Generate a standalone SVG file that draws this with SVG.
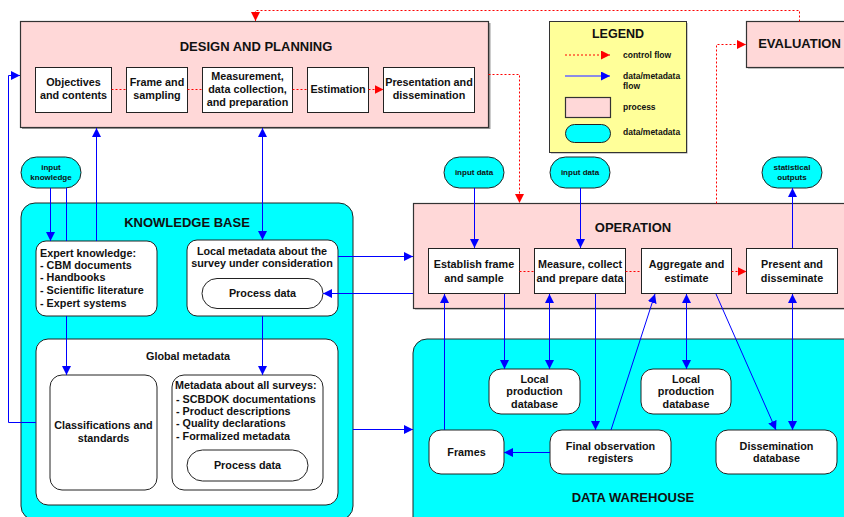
<svg xmlns="http://www.w3.org/2000/svg" width="844" height="517" viewBox="0 0 844 517">
<style>
text{font-family:"Liberation Sans",Arial,sans-serif;font-weight:bold;fill:#111;}
.t13{font-size:13px;text-anchor:middle;}
.t11{font-size:10.8px;text-anchor:middle;}
.tl{font-size:10.8px;text-anchor:start;}
.t8{font-size:8px;text-anchor:middle;}
.lg{font-size:8.5px;text-anchor:start;}
.proc{fill:#FFD8D8;stroke:#333;stroke-width:1.2;}
.sh{fill:#999;}
.box{fill:#fff;stroke:#222;stroke-width:1;}
.cyan{fill:#00FFFF;stroke:#222;stroke-width:1;}
.wr{fill:#fff;stroke:#222;stroke-width:1;}
.blue{fill:none;stroke:#0000FF;stroke-width:1;}
.red{fill:none;stroke:#FF0000;stroke-width:1;stroke-dasharray:2,2;}
</style>
<defs>
<marker id="ab" viewBox="0 0 10 10" refX="10" refY="5" markerWidth="9" markerHeight="9" orient="auto-start-reverse" markerUnits="userSpaceOnUse"><path d="M0,0 L10,5 L0,10 z" fill="#0000FF"/></marker>
<marker id="ar" viewBox="0 0 10 10" refX="10" refY="5" markerWidth="9" markerHeight="9" orient="auto-start-reverse" markerUnits="userSpaceOnUse"><path d="M0,0 L10,5 L0,10 z" fill="#FF0000"/></marker>
</defs>
<rect width="844" height="517" fill="#fff"/>

<!-- Knowledge base -->
<g id="knowledge-base">
<rect class="cyan" x="21" y="203" width="332" height="317" rx="14"/>
<text class="t13" x="187" y="227">KNOWLEDGE BASE</text>
</g>
<g id="expert-knowledge">
<rect class="wr" x="36" y="241" width="121" height="75" rx="10"/>
<text class="tl" x="40" y="256.5">Expert knowledge:</text>
<text class="tl" x="40" y="269">- CBM documents</text>
<text class="tl" x="40" y="281">- Handbooks</text>
<text class="tl" x="40" y="293.8">- Scientific literature</text>
<text class="tl" x="40" y="307">- Expert systems</text>
</g>
<g id="local-metadata">
<rect class="wr" x="187" y="240" width="151" height="76" rx="10"/>
<text class="t11" x="262" y="254.5">Local metadata about the</text>
<text class="t11" x="262" y="267">survey under consideration</text>
</g>
<g id="process-data-local">
<rect class="wr" x="202" y="278.5" width="121" height="30" rx="15"/>
<text class="t11" x="262.5" y="297">Process data</text>
</g>
<g id="global-metadata">
<rect class="wr" x="36" y="339" width="302" height="166" rx="12"/>
<text class="t11" x="188" y="360">Global metadata</text>
</g>
<g id="classifications">
<rect class="wr" x="50" y="375" width="107" height="115" rx="12"/>
<text class="t11" x="103.5" y="429">Classifications and</text>
<text class="t11" x="103.5" y="441.8">standards</text>
</g>
<g id="metadata-all-surveys">
<rect class="wr" x="172" y="375" width="151" height="115" rx="12"/>
<text class="tl" x="175" y="389">Metadata about all surveys:</text>
<text class="tl" x="176" y="402.5">- SCBDOK documentations</text>
<text class="tl" x="176" y="415">- Product descriptions</text>
<text class="tl" x="176" y="427.2">- Quality declarations</text>
<text class="tl" x="176" y="440">- Formalized metadata</text>
</g>
<g id="process-data-global">
<rect class="wr" x="187" y="450" width="121" height="31" rx="15.5"/>
<text class="t11" x="247.5" y="469">Process data</text>
</g>

<!-- Data warehouse -->
<g id="data-warehouse">
<rect class="cyan" x="413" y="339" width="460" height="200" rx="14"/>
<text class="t13" x="633" y="501.5">DATA WAREHOUSE</text>
</g>
<g id="local-prod-db-1">
<rect class="wr" x="489" y="369" width="91" height="45" rx="12"/>
<text class="t11" x="534.5" y="383">Local</text>
<text class="t11" x="534.5" y="395">production</text>
<text class="t11" x="534.5" y="407.8">database</text>
</g>
<g id="local-prod-db-2">
<rect class="wr" x="641" y="369" width="90" height="45" rx="12"/>
<text class="t11" x="686" y="383">Local</text>
<text class="t11" x="686" y="395">production</text>
<text class="t11" x="686" y="407.8">database</text>
</g>
<g id="frames">
<rect class="wr" x="429" y="430" width="75" height="44" rx="12"/>
<text class="t11" x="466.5" y="456">Frames</text>
</g>
<g id="final-observation-registers">
<rect class="wr" x="550" y="430" width="121" height="44" rx="12"/>
<text class="t11" x="610.5" y="449.5">Final observation</text>
<text class="t11" x="610.5" y="461.8">registers</text>
</g>
<g id="dissemination-database">
<rect class="wr" x="716" y="430" width="121" height="44" rx="12"/>
<text class="t11" x="776.5" y="449.5">Dissemination</text>
<text class="t11" x="776.5" y="461.8">database</text>
</g>

<!-- Design and planning -->
<g id="design-planning">
<rect class="sh" x="22" y="23" width="468.5" height="106"/>
<rect class="proc" x="20.5" y="21.5" width="468" height="106"/>
<text class="t13" x="256" y="50.5">DESIGN AND PLANNING</text>
</g>
<g id="objectives">
<rect class="box" x="35.5" y="67.5" width="76" height="45"/>
<text class="t11" x="73.5" y="86">Objectives</text>
<text class="t11" x="73.5" y="99">and contents</text>
</g>
<g id="frame-sampling">
<rect class="box" x="126.5" y="67.5" width="61" height="45"/>
<text class="t11" x="157" y="86">Frame and</text>
<text class="t11" x="157" y="99">sampling</text>
</g>
<g id="measurement">
<rect class="box" x="202.5" y="67.5" width="90" height="45"/>
<text class="t11" x="247.5" y="79.8">Measurement,</text>
<text class="t11" x="247.5" y="93">data collection,</text>
<text class="t11" x="247.5" y="105.8">and preparation</text>
</g>
<g id="estimation">
<rect class="box" x="307.5" y="67.5" width="61" height="45"/>
<text class="t11" x="338" y="93">Estimation</text>
</g>
<g id="presentation">
<rect class="box" x="383.5" y="67.5" width="91" height="45"/>
<text class="t11" x="429" y="86">Presentation and</text>
<text class="t11" x="429" y="99">dissemination</text>
</g>

<!-- Operation -->
<g id="operation">
<rect class="sh" x="415" y="205" width="440" height="104.5"/>
<rect class="proc" x="413.5" y="203.5" width="440" height="105"/>
<text class="t13" x="633" y="231.5">OPERATION</text>
</g>
<g id="establish">
<rect class="box" x="428.5" y="248.5" width="91" height="45"/>
<text class="t11" x="474" y="268">Establish frame</text>
<text class="t11" x="474" y="281.5">and sample</text>
</g>
<g id="measure">
<rect class="box" x="534.5" y="248.5" width="91" height="45"/>
<text class="t11" x="580" y="268">Measure, collect</text>
<text class="t11" x="580" y="281.5">and prepare data</text>
</g>
<g id="aggregate">
<rect class="box" x="641.5" y="248.5" width="90" height="45"/>
<text class="t11" x="686.5" y="268">Aggregate and</text>
<text class="t11" x="686.5" y="281.5">estimate</text>
</g>
<g id="present">
<rect class="box" x="746.5" y="248.5" width="91" height="45"/>
<text class="t11" x="792" y="268">Present and</text>
<text class="t11" x="792" y="281.5">disseminate</text>
</g>

<!-- Evaluation -->
<g id="evaluation">
<rect class="sh" x="748" y="23" width="110" height="45.5"/>
<rect class="proc" x="746.5" y="21.5" width="110" height="46"/>
<text class="t13" x="799.5" y="48">EVALUATION</text>
</g>

<!-- Legend -->
<g id="legend">
<rect class="sh" x="551" y="23" width="136.5" height="130.5"/>
<rect x="549.5" y="21.5" width="137" height="131" fill="#FFFF99" stroke="#333" stroke-width="1"/>
<text class="t13" x="618" y="38" style="font-size:12.5px">LEGEND</text>
<line class="red" x1="565" y1="55" x2="610" y2="55" marker-end="url(#ar)"/>
<text class="lg" x="623" y="58">control flow</text>
<line x1="565" y1="76" x2="610" y2="76" stroke="#6666FF" stroke-width="1.5" marker-end="url(#ab)"/>
<text class="lg" x="623" y="79">data/metadata</text>
<text class="lg" x="623" y="89">flow</text>
<rect class="proc" x="565.5" y="97.5" width="45" height="20"/>
<text class="lg" x="623" y="109.5">process</text>
<rect class="cyan" x="565.5" y="124.5" width="45" height="18" rx="9"/>
<text class="lg" x="623" y="135">data/metadata</text>
</g>

<!-- Data pills -->
<g id="input-knowledge">
<rect class="cyan" x="21" y="157" width="60" height="31" rx="15.5"/>
<text class="t8" x="51" y="170">input</text>
<text class="t8" x="51" y="179.5">knowledge</text>
</g>
<g id="input-data-1">
<rect class="cyan" x="444" y="157" width="60" height="31" rx="15.5"/>
<text class="t8" x="474" y="175">input data</text>
</g>
<g id="input-data-2">
<rect class="cyan" x="550" y="157" width="60" height="31" rx="15.5"/>
<text class="t8" x="580" y="175">input data</text>
</g>
<g id="statistical-outputs">
<rect class="cyan" x="762" y="157" width="60" height="31" rx="15.5"/>
<text class="t8" x="792" y="170">statistical</text>
<text class="t8" x="792" y="179.5">outputs</text>
</g>

<!-- Connectors -->
<g id="connectors">
<!-- control flow -->
<line class="red" x1="111.5" y1="89.5" x2="126.5" y2="89.5"/>
<line class="red" x1="187.5" y1="89.5" x2="202.5" y2="89.5"/>
<line class="red" x1="292.5" y1="89.5" x2="307.5" y2="89.5"/>
<line class="red" x1="368.5" y1="89.5" x2="383.5" y2="89.5" marker-end="url(#ar)"/>
<line class="red" x1="519.5" y1="271.5" x2="534.5" y2="271.5"/>
<line class="red" x1="625.5" y1="271.5" x2="641.5" y2="271.5"/>
<line class="red" x1="731.5" y1="271.5" x2="746.5" y2="271.5" marker-end="url(#ar)"/>
<path class="red" d="M488.5,74.5 H519.5 V203" marker-end="url(#ar)"/>
<path class="red" d="M716.5,203.5 V44.5 H746" marker-end="url(#ar)"/>
<path class="red" d="M799.5,21.5 V10.5 H255.5 V21" marker-end="url(#ar)"/>
<!-- data/metadata flow -->
<path class="blue" d="M36,422.5 H8.5 V75.5 H20" marker-end="url(#ab)"/>
<line class="blue" x1="50.5" y1="188" x2="50.5" y2="241" marker-end="url(#ab)"/>
<line class="blue" x1="66.5" y1="188" x2="66.5" y2="241"/>
<line class="blue" x1="66.5" y1="316" x2="66.5" y2="375" marker-end="url(#ab)"/>
<line class="blue" x1="96.5" y1="241" x2="96.5" y2="128" marker-end="url(#ab)"/>
<line class="blue" x1="262.5" y1="128" x2="262.5" y2="240" marker-start="url(#ab)" marker-end="url(#ab)"/>
<line class="blue" x1="262.5" y1="316" x2="262.5" y2="375" marker-end="url(#ab)"/>
<line class="blue" x1="338" y1="256.5" x2="413" y2="256.5" marker-end="url(#ab)"/>
<line class="blue" x1="413" y1="293.5" x2="323" y2="293.5" marker-end="url(#ab)"/>
<line class="blue" x1="353" y1="429.5" x2="413" y2="429.5" marker-end="url(#ab)"/>
<line class="blue" x1="474.5" y1="188" x2="474.5" y2="248" marker-end="url(#ab)"/>
<line class="blue" x1="580.5" y1="188" x2="580.5" y2="248" marker-end="url(#ab)"/>
<line class="blue" x1="792.5" y1="248" x2="792.5" y2="188" marker-end="url(#ab)"/>
<line class="blue" x1="444.5" y1="430" x2="444.5" y2="294" marker-end="url(#ab)"/>
<line class="blue" x1="504.5" y1="294" x2="504.5" y2="369" marker-end="url(#ab)"/>
<line class="blue" x1="549.5" y1="294" x2="549.5" y2="369" marker-start="url(#ab)" marker-end="url(#ab)"/>
<line class="blue" x1="595.5" y1="294" x2="595.5" y2="430" marker-end="url(#ab)"/>
<line class="blue" x1="611" y1="430" x2="655" y2="294" marker-end="url(#ab)"/>
<line class="blue" x1="686.5" y1="294" x2="686.5" y2="369" marker-start="url(#ab)" marker-end="url(#ab)"/>
<line class="blue" x1="716" y1="294" x2="776" y2="430" marker-end="url(#ab)"/>
<line class="blue" x1="792.5" y1="294" x2="792.5" y2="430" marker-start="url(#ab)" marker-end="url(#ab)"/>
<line class="blue" x1="550" y1="452.5" x2="504" y2="452.5" marker-end="url(#ab)"/>
</g>
</svg>
